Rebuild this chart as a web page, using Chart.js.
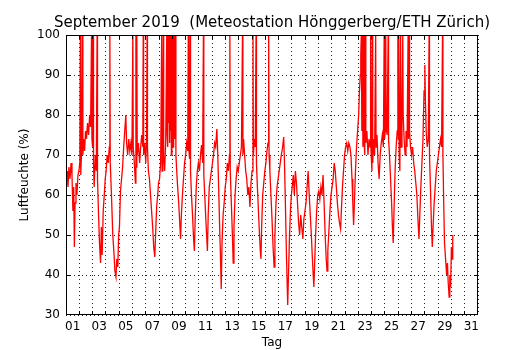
<!DOCTYPE html>
<html>
<head>
<meta charset="utf-8">
<script src="https://cdn.jsdelivr.net/npm/chart.js@4/dist/chart.umd.min.js"></script>
<style>
  html, body { margin: 0; padding: 0; background: #fff; }
  canvas { display: block; }
</style>
</head>
<body>
<canvas id="chart" width="530" height="350"></canvas>
<script>
// Time of each reading in days since 1 September 2019, 00:00
const dayTime = [
  0.00,0.08,0.15,0.22,0.30,0.38,0.45,0.52,0.58,0.63,0.68,0.75,0.82,0.90,0.97,
  1.04,1.08,1.11,1.18,1.24,1.27,1.33,1.40,1.47,1.54,1.62,1.70,1.78,1.85,1.92,1.95,
  2.00,2.04,2.07,2.12,2.20,2.28,2.34,2.37,2.45,2.52,2.60,2.66,2.72,2.80,2.88,2.95,
  3.02,3.10,3.18,3.26,3.30,3.33,3.42,3.52,3.60,3.68,3.76,3.82,3.90,3.96,
  4.02,4.10,4.18,4.26,4.34,4.42,4.50,4.56,4.64,4.72,4.80,4.88,4.96,
  5.03,5.06,5.14,5.22,5.26,5.29,5.33,5.36,5.45,5.54,5.62,5.70,5.78,5.81,5.84,5.92,
  6.00,6.06,6.10,6.13,6.20,6.28,6.36,6.44,6.52,6.60,6.68,6.74,6.82,6.90,6.96,
  7.04,7.12,7.20,7.23,7.28,7.32,7.35,7.42,7.50,7.58,7.61,7.64,7.67,7.71,7.74,7.77,7.80,7.84,7.87,7.90,7.93,7.97,
  8.00,8.03,8.06,8.10,8.13,8.17,8.20,8.24,8.27,8.33,8.40,8.48,8.56,8.62,8.68,8.76,8.84,8.92,
  9.00,9.08,9.16,9.20,9.23,9.30,9.34,9.37,9.44,9.52,9.60,9.66,9.72,9.80,9.88,9.96,
  10.04,10.12,10.20,10.28,10.34,10.37,10.44,10.52,10.58,10.64,10.70,10.78,10.86,10.94,
  11.02,11.10,11.18,11.26,11.35,11.42,11.50,11.56,11.62,11.68,11.74,11.82,11.90,11.98,
  12.06,12.14,12.22,12.30,12.33,12.36,12.44,12.52,12.58,12.64,12.72,12.80,12.88,12.96,
  13.04,13.12,13.20,13.28,13.31,13.36,13.44,13.52,13.60,13.68,13.76,13.84,13.92,
  14.00,14.07,14.10,14.18,14.24,14.30,14.33,14.40,14.48,14.56,14.62,14.67,14.72,14.80,14.88,14.96,
  15.04,15.12,15.20,15.25,15.28,15.34,15.42,15.50,15.58,15.66,15.72,15.80,15.88,15.96,
  16.04,16.12,16.20,16.30,16.38,16.44,16.52,16.58,16.64,16.68,16.74,16.82,16.90,16.96,
  17.02,17.10,17.18,17.26,17.34,17.42,17.50,17.58,17.66,17.74,17.82,17.90,17.98,
  18.06,18.14,18.22,18.30,18.38,18.46,18.54,18.60,18.65,18.70,18.78,18.86,18.94,
  19.02,19.10,19.18,19.26,19.34,19.42,19.50,19.58,19.64,19.70,19.78,19.86,19.94,
  20.02,20.10,20.18,20.26,20.34,20.42,20.50,20.58,20.66,20.72,20.80,20.88,20.96,
  21.04,21.12,21.20,21.28,21.36,21.44,21.52,21.58,21.64,21.70,21.78,21.86,21.94,
  22.02,22.08,22.14,22.18,22.22,22.26,22.30,22.34,22.38,22.42,22.48,22.52,22.56,22.64,22.72,22.80,22.88,22.92,22.95,
  23.02,23.05,23.08,23.15,23.22,23.30,23.33,23.40,23.48,23.56,23.64,23.72,23.80,23.88,23.94,23.97,
  24.02,24.06,24.09,24.16,24.24,24.27,24.34,24.42,24.50,24.56,24.62,24.68,24.76,24.84,24.92,24.97,
  25.00,25.04,25.07,25.12,25.18,25.21,25.28,25.34,25.37,25.44,25.52,25.58,25.66,25.74,25.77,25.82,25.85,25.92,
  26.00,26.08,26.16,26.24,26.32,26.40,26.48,26.56,26.62,26.70,26.78,26.86,26.94,27.00,
  27.04,27.10,27.18,27.26,27.32,27.35,27.42,27.50,27.56,27.62,27.70,27.78,27.86,27.94,
  28.02,28.10,28.18,28.26,28.33,28.36,28.42,28.48,28.56,28.64,28.70,28.76,28.83,28.88,28.94,29.00,29.06,29.10
];

// Relative humidity (%) at those times
const humidity = [
  63,66,62,67,64,68,65,56,62,47,58,63,60,65,66,
  68,100,65,72,100,70,74,71,76,74,78,75,80,77,100,74,
  72,100,68,62,70,66,100,64,55,48,43,52,45,56,60,64,
  66,70,68,72,100,68,60,50,46,41,39.5,44,42,50,
  52,61,64,67,72,76,80,73,70,74,71,73,70,
  100,72,68,63,100,67,100,70,73,68,72,75,72,100,70,73,
  68,74,100,72,66,64,60,56,52,47,44.5,50,57,60,63,
  64,68,100,66,72,100,70,66,73,100,75,100,72,100,78,100,73,100,76,100,70,100,
  76,100,72,100,78,100,74,100,70,66,62,58,53,49,55,60,64,68,
  70,73,71,100,72,69,100,66,60,55,49,46,54,62,66,68,
  66,70,72.5,68,100,65,60,54,50,46,55,62,64,66,
  68,70,73,72,76.5,70,60,52,45,36.5,48,55,58,62,
  64,68,66,70,100,66,58,50,43,52,60,64,67,66,
  68,70,72,100,70,74,70,66,64,60,62,57,63,
  66,100,70,74,72,100,68,62,56,50,46,44,52,60,63,66,
  68,71,73,100,70,66,60,54,47,42,50,58,62,64,
  66,68,70,72,74.5,68,56,46,38,32.5,40,50,57,60,
  62,65,60,66,63,58,53,50,55,52,49,54,56,
  58,62,66,60,55,50,44,40,37,42,50,56,60,
  61,59,62,60,65,58,50,44,41,46,51,56,60,
  62,64,68,66,62,58,55,53,51.5,56,62,66,70,
  72,73,71,73,72,70,64,58,52.5,58,66,72,76,
  80,86,90,95,100,76,100,72,100,74,70,100,73,76,70,74,72,100,71,
  66,100,68,74,70,100,72,75,68,64,70,73,75,72,100,74,
  76,100,77,75,100,74,70,64,58,52,48,56,66,72,76,100,
  74,100,70,66,100,72,78,100,80,74,70,76,72,100,74,100,76,72,
  70,72,68,66,63,60,54,49,55,62,68,74,86,92.5,
  84,76,72,74,100,70,62,52,47,52,58,62,66,68,
  70,72,74,72,100,70,58,48,44,40,43,38,34.5,40,37,47,44,50
];

// Day labels, each written under the middle of its day
const dayLabels = ['01','03','05','07','09','11','13','15','17','19','21','23','25','27','29','31'];
const dayCount = 31;
const yTicks = [30, 40, 50, 60, 70, 80, 90, 100];
const chartTitle = 'September 2019  (Meteostation Hönggerberg/ETH Zürich)';

const FONT = 'DejaVu Sans';
Chart.defaults.font.family = FONT;
Chart.defaults.color = '#000';

const points = dayTime.map((t, i) => ({ x: t, y: humidity[i] }));

// Title centred over the plot area
const titlePlugin = {
  id: 'plotTitle',
  afterDraw(chart) {
    const { ctx, chartArea: a } = chart;
    ctx.save();
    ctx.fillStyle = '#000';
    ctx.font = '15px "' + FONT + '"';
    ctx.textAlign = 'center';
    ctx.textBaseline = 'alphabetic';
    ctx.fillText(chartTitle, (a.left + a.right) / 2, 27);
    ctx.restore();
  }
};

// Frame and inward tick marks on all four sides
const framePlugin = {
  id: 'frame',
  afterDatasetsDraw(chart) {
    const { ctx, chartArea: a, scales: { x, y } } = chart;
    const L = 4;
    const al = (p) => Math.round(p - 0.5) + 0.5;
    ctx.save();
    ctx.strokeStyle = '#000';
    ctx.lineWidth = 1;
    ctx.beginPath();
    for (let d = 1; d < dayCount; d++) {
      const px = al(x.getPixelForValue(d));
      ctx.moveTo(px, a.bottom); ctx.lineTo(px, a.bottom - L);
      ctx.moveTo(px, a.top); ctx.lineTo(px, a.top + L);
    }
    yTicks.slice(1, -1).forEach((v) => {
      const py = al(y.getPixelForValue(v));
      ctx.moveTo(a.left, py); ctx.lineTo(a.left + L, py);
      ctx.moveTo(a.right, py); ctx.lineTo(a.right - L, py);
    });
    ctx.stroke();
    ctx.strokeRect(a.left + 0.5, a.top + 0.5, a.right - a.left - 1, a.bottom - a.top - 1);
    ctx.restore();
  }
};

new Chart(document.getElementById('chart'), {
  type: 'line',
  data: {
    datasets: [{
      data: points,
      borderColor: '#ff0000',
      borderWidth: 1.3,
      pointRadius: 0,
      tension: 0,
      fill: false
    }]
  },
  options: {
    responsive: false,
    animation: false,
    devicePixelRatio: 1,
    layout: { padding: { top: 35, right: 52, bottom: 0, left: 0 } },
    plugins: {
      legend: { display: false },
      tooltip: { enabled: false },
      title: { display: false }
    },
    scales: {
      x: {
        type: 'linear',
        min: 0,
        max: dayCount,
        afterBuildTicks: (scale) => {
          const ticks = [];
          for (let d = 0; d <= dayCount; d++) ticks.push({ value: d });
          dayLabels.forEach((l) => ticks.push({ value: Number(l) - 0.5 }));
          ticks.sort((a, b) => a.value - b.value);
          scale.ticks = ticks;
        },
        afterFit: (scale) => { scale.height = 35; },
        ticks: {
          autoSkip: false,
          maxRotation: 0,
          padding: 5,
          font: { family: FONT, size: 12 },
          color: '#000',
          callback: (v) => {
            const l = dayLabels.find((s) => Number(s) - 0.5 === v);
            return l || '';
          }
        },
        grid: {
          drawTicks: false,
          lineWidth: 1,
          color: (ctx) => (ctx.tick && Number.isInteger(ctx.tick.value)) ? '#222' : 'rgba(0,0,0,0)'
        },
        border: { display: false, dash: [1, 3] },
        title: {
          display: true,
          text: 'Tag',
          color: '#000',
          font: { family: FONT, size: 12 },
          padding: { top: 0, bottom: 0 }
        }
      },
      y: {
        min: 30,
        max: 100,
        afterBuildTicks: (scale) => { scale.ticks = yTicks.map((v) => ({ value: v })); },
        afterFit: (scale) => { scale.width = 66; },
        ticks: {
          padding: 6,
          font: { family: FONT, size: 12 },
          color: '#000'
        },
        grid: { drawTicks: false, lineWidth: 1, color: '#222' },
        border: { display: false, dash: [1, 3] },
        title: {
          display: true,
          text: 'Luftfeuchte (%)',
          color: '#000',
          font: { family: FONT, size: 12 },
          padding: { top: 18, bottom: 0 }
        }
      }
    }
  },
  plugins: [framePlugin, titlePlugin]
});
</script>
</body>
</html>
